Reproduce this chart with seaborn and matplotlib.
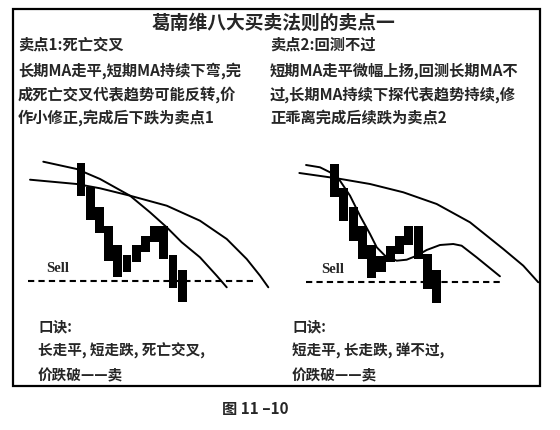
import numpy as np
import pandas as pd
import seaborn as sns
import matplotlib.pyplot as plt
from matplotlib.patches import Rectangle

sns.set_theme(style="white")
plt.rcParams['font.family'] = ['Noto Sans CJK SC', 'DejaVu Sans']

# ---- data (candle index / price units) ----
candle_idx = list(range(12))

# 卖点1: 死亡交叉
left_top = [136, 112, 92, 73, 54, 44, 54, 63, 73, 73, 44, 29]
left_bottom = [103, 79, 66, 38, 22, 27, 37, 47, 57, 40, 11, -3]
left_short_x = [-4.1, -0.47, 2.07, 5.33, 7.5, 9.32, 10.95, 12.93, 14.75, 15.84]
left_short_y = [137.3, 130, 120, 103.3, 86.7, 71.7, 56.7, 41.7, 23.3, 11.7]
left_long_x = [-5.54, -0.47, 2.07, 5.33, 9.32, 12.93, 15.84, 18.01, 19.46, 20.36]
left_long_y = [119.3, 115, 110.7, 103.3, 93.3, 78.3, 60, 40, 23.3, 11.7]
left_sell = 18
left_sell_span = [-5.76, 19.13]

# 卖点2: 回测不过
right_top = [135, 111, 92, 73, 54, 43, 53, 63, 73, 73, 45, 29]
right_bottom = [102, 78, 58, 40, 21, 27, 37, 45, 54, 40, 10, -4]
right_long_x = [-3.78, 0.24, 3.82, 7.4, 10.99, 14.57, 18.15, 20.3, 21.91]
right_long_y = [126, 120.7, 115, 106.7, 95, 76.7, 50, 33.3, 16.7]
right_short_x = [-3.06, -1.56, -0.48, 0.59, 1.67, 2.74, 3.82, 4.54, 5.43,
                 6.69, 7.76, 8.84, 9.91, 11.34, 12.77, 13.67, 15.28, 17.79]
right_short_y = [134, 131.7, 126.7, 118.3, 103.3, 83.3, 65, 51.7, 43.3,
                 38.3, 39.3, 43.3, 49, 54, 55, 53.3, 41.7, 22.7]
right_sell = 17
right_sell_span = [-3.06, 17.8]

title = "葛南维八大买卖法则的卖点一"
left_text = ["卖点1:死亡交叉",
             "长期MA走平,短期MA持续下弯,完",
             "成死亡交叉代表趋势可能反转,价",
             "作小修正,完成后下跌为卖点1"]
right_text = ["卖点2:回测不过",
              "短期MA走平微幅上扬,回测长期MA不",
              "过,长期MA持续下探代表趋势持续,修",
              "正乖离完成后续跌为卖点2"]
left_rhyme = ["口诀:", "长走平, 短走跌, 死亡交叉,", "价跌破——卖"]
right_rhyme = ["口诀:", "短走平, 长走跌, 弹不过,", "价跌破——卖"]
caption = "图 11 –10"

W, H = 560, 431
fig = plt.figure(figsize=(W / 100, H / 100), dpi=100)
bg = fig.add_axes([0, 0, 1, 1])
bg.set_xlim(0, W)
bg.set_ylim(H, 0)
bg.axis("off")

bg.add_patch(Rectangle((13, 10), 527, 377, fill=False, lw=1.6, ec="black"))
bg.text(273, 23, title, ha="center", va="center", fontsize=13.5, weight="bold")

rows_top = [45, 71, 95, 118]
rows_bot = [326, 351, 375]
for y, s in zip(rows_top, left_text):
    bg.text(18, y, s, ha="left", va="center", fontsize=11, weight="bold")
for y, s in zip(rows_top, right_text):
    bg.text(270, y, s, ha="left", va="center", fontsize=11, weight="bold")
for y, s in zip(rows_bot, left_rhyme):
    bg.text(38, y, s, ha="left", va="center", fontsize=10.5, weight="bold")
for y, s in zip(rows_bot, right_rhyme):
    bg.text(292, y, s, ha="left", va="center", fontsize=10.5, weight="bold")
bg.text(255, 409, caption, ha="center", va="center", fontsize=11, weight="bold")


def panel(px_left, px_right, x0, step, top, bottom, long_x, long_y,
          short_x, short_y, sell, span, sell_px):
    ax = fig.add_axes([px_left / W, (H - 310) / H,
                       (px_right - px_left) / W, 160 / H])
    ax.set_xlim((px_left - x0) / step, (px_right - x0) / step)
    ax.set_ylim(-10, 150)
    ax.axis("off")
    df = pd.DataFrame({"i": candle_idx, "top": top, "bottom": bottom})
    ax.bar(df["i"], df["top"] - df["bottom"], bottom=df["bottom"],
           width=0.97, color="black", lw=0)
    sns.lineplot(x=long_x, y=long_y, ax=ax, sort=False, estimator=None,
                 color="black", lw=1.4)
    sns.lineplot(x=short_x, y=short_y, ax=ax, sort=False, estimator=None,
                 color="black", lw=1.4)
    ax.plot(span, [sell, sell], color="black", lw=1.5, ls=(0, (3, 2)))
    ax.text((sell_px - x0) / step, sell + 13, "Sell", ha="left", va="center",
            family="Liberation Serif", weight="bold", fontsize=10.5)
    return ax


panel(20, 275, 81, 9.2, left_top, left_bottom, left_long_x, left_long_y,
      left_short_x, left_short_y, left_sell, left_sell_span, 46)
panel(285, 545, 334.5, 9.3, right_top, right_bottom, right_long_x, right_long_y,
      right_short_x, right_short_y, right_sell, right_sell_span, 321)

fig.savefig("out.png", dpi=100)
